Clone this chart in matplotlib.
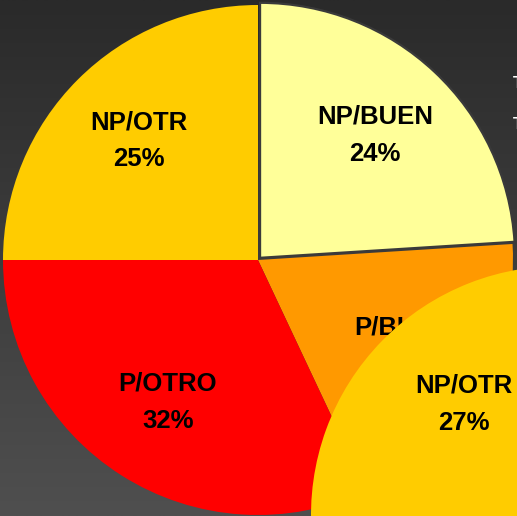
import numpy as np
import matplotlib
matplotlib.use("Agg")
import matplotlib.pyplot as plt

plt.rcParams['font.family'] = ['Liberation Sans', 'DejaVu Sans']

# ---- data ----
categories = ["NP/BUEN", "P/BUEN", "P/OTRO", "NP/OTR"]
values = [24, 19, 32, 25]
colors = ["#FFFF99", "#FF9900", "#FF0000", "#FFCC00"]

second_categories = ["NP/OTR"]
second_values = [27]
second_colors = ["#FFCC00"]

legend_fragments = ["T", "T"]

W, H = 517, 516
fig = plt.figure(figsize=(W / 100, H / 100), dpi=100)
ax = fig.add_axes([0, 0, 1, 1])

# background gradient
grad = np.linspace(0, 1, 256).reshape(-1, 1)
top = np.array([0x2a, 0x2a, 0x2a]) / 255
bot = np.array([0x4f, 0x4f, 0x4f]) / 255
img = top + (bot - top) * grad[..., None]
ax.imshow(img, extent=[0, W, 0, H], aspect='auto', origin='upper', zorder=0)

FS = 18.5
LS = 1.68

# main pie
labels = [f"{c}\n{v}%" for c, v in zip(categories, values)]
wedges, texts = ax.pie(values, labels=labels, colors=colors, startangle=90,
                       counterclock=False, center=(258, 256), radius=255,
                       explode=[3, 0, 0, 0], labeldistance=0.66,
                       wedgeprops=dict(linewidth=0), frame=False,
                       textprops=dict(fontsize=FS, fontweight='bold', color='black'))
wedges[0].set_edgecolor('#3a3a3a')
wedges[0].set_linewidth(1.6)
for w in wedges:
    w.set_zorder(2)
for t in texts:
    t.set_ha('center'); t.set_va('center'); t.set_multialignment('center')
    t.set_linespacing(LS); t.set_zorder(3)

# second (overlapping) pie, only partially visible
c2, r2 = (560, 1), 249
labels2 = [f"{c}\n{v}%" for c, v in zip(second_categories, second_values)]
w2, t2 = ax.pie([v / 100 for v in second_values], labels=labels2, colors=second_colors,
                normalize=False, startangle=87, counterclock=True,
                center=c2, radius=r2, labeldistance=0.59,
                wedgeprops=dict(linewidth=0), frame=False,
                textprops=dict(fontsize=FS, fontweight='bold', color='black'))
for w in w2:
    w.set_zorder(4)
lab_ang = np.deg2rad(131)
for t in t2:
    t.set_position((c2[0] + 0.59 * r2 * np.cos(lab_ang), c2[1] + 0.59 * r2 * np.sin(lab_ang)))
    t.set_ha('center'); t.set_va('center'); t.set_multialignment('center')
    t.set_linespacing(LS); t.set_zorder(5)

# clipped legend text fragments at right edge
for i, s in enumerate(legend_fragments):
    ax.text(513, H - 76 - i * 41, s, color='white', fontsize=12, fontweight='bold',
            ha='left', va='top', zorder=6)

ax.set_xlim(0, W)
ax.set_ylim(0, H)
ax.set_aspect('auto')
ax.axis('off')
fig.savefig("out.png", dpi=100)
